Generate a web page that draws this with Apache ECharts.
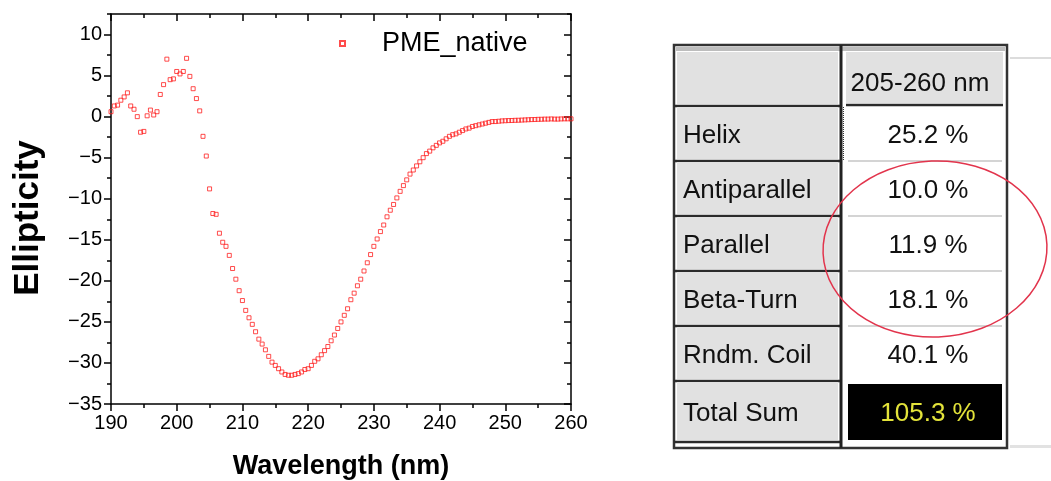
<!DOCTYPE html>
<html>
<head>
<meta charset="utf-8">
<title>PME_native CD spectrum</title>
<script src="https://cdn.jsdelivr.net/npm/echarts@6.0.0/dist/echarts.min.js"></script>
<style>
  html, body { margin: 0; padding: 0; background: #fff; }
  #main { width: 1051px; height: 481px; }
</style>
</head>
<body>
<div id="main"></div>
<script>
// wavelength grid (nm), one reading every 0.5 nm
const wavelengths = [
  190, 190.5, 191, 191.5, 192, 192.5, 193, 193.5, 194, 194.5,
  195, 195.5, 196, 196.5, 197, 197.5, 198, 198.5, 199, 199.5,
  200, 200.5, 201, 201.5, 202, 202.5, 203, 203.5, 204, 204.5,
  205, 205.5, 206, 206.5, 207, 207.5, 208, 208.5, 209, 209.5,
  210, 210.5, 211, 211.5, 212, 212.5, 213, 213.5, 214, 214.5,
  215, 215.5, 216, 216.5, 217, 217.5, 218, 218.5, 219, 219.5,
  220, 220.5, 221, 221.5, 222, 222.5, 223, 223.5, 224, 224.5,
  225, 225.5, 226, 226.5, 227, 227.5, 228, 228.5, 229, 229.5,
  230, 230.5, 231, 231.5, 232, 232.5, 233, 233.5, 234, 234.5,
  235, 235.5, 236, 236.5, 237, 237.5, 238, 238.5, 239, 239.5,
  240, 240.5, 241, 241.5, 242, 242.5, 243, 243.5, 244, 244.5,
  245, 245.5, 246, 246.5, 247, 247.5, 248, 248.5, 249, 249.5,
  250, 250.5, 251, 251.5, 252, 252.5, 253, 253.5, 254, 254.5,
  255, 255.5, 256, 256.5, 257, 257.5, 258, 258.5, 259, 259.5,
  260
]

// ellipticity
const ellipticity = [
  0.6, 1.3, 1.4, 2.0, 2.4, 2.9, 1.3, 0.9, 0.0, -1.9,
  -1.8, 0.1, 0.8, 0.2, 0.6, 2.7, 3.9, 7.0, 4.5, 4.6,
  5.5, 5.2, 5.5, 7.1, 4.9, 3.4, 2.2, 0.7, -2.4, -4.8,
  -8.8, -11.8, -11.9, -14.2, -15.3, -15.8, -16.9, -18.5, -19.8, -21.2,
  -22.4, -23.6, -24.5, -25.3, -26.2, -27.1, -27.7, -28.4, -29.2, -29.9,
  -30.3, -30.7, -31.1, -31.4, -31.5, -31.5, -31.4, -31.3, -31.1, -30.8,
  -30.7, -30.3, -29.8, -29.5, -29.0, -28.5, -28.0, -27.3, -26.6, -25.8,
  -25.0, -24.2, -23.4, -22.3, -21.5, -20.6, -19.8, -18.8, -17.8, -16.8,
  -15.8, -14.9, -14.0, -13.2, -12.2, -11.4, -10.7, -9.9, -9.1, -8.4,
  -7.7, -7.0, -6.5, -6.0, -5.5, -5.0, -4.5, -4.2, -3.8, -3.5,
  -3.2, -3.0, -2.7, -2.4, -2.2, -2.1, -1.9, -1.7, -1.5, -1.4,
  -1.2, -1.1, -1.0, -0.9, -0.8, -0.7, -0.6, -0.6, -0.56, -0.52,
  -0.5, -0.48, -0.47, -0.45, -0.44, -0.42, -0.4, -0.38, -0.36, -0.35,
  -0.33, -0.32, -0.3, -0.3, -0.28, -0.3, -0.3, -0.28, -0.27, -0.27,
  -0.27
]

const xMajorTicks = [190, 200, 210, 220, 230, 240, 250, 260]
const xMinorTicks = [195, 205, 215, 225, 235, 245, 255]
const yMajorTicks = [-35, -30, -25, -20, -15, -10, -5, 0, 5, 10]
const yMinorTicks = [-32.5, -27.5, -22.5, -17.5, -12.5, -7.5, -2.5, 2.5, 7.5, 12.5]

// secondary structure table
const tableHeader = '205-260 nm'
const structureNames = ['Helix', 'Antiparallel', 'Parallel', 'Beta-Turn', 'Rndm. Coil', 'Total Sum']
const structurePercent = [25.2, 10.0, 11.9, 18.1, 40.1, 105.3]

const seriesName = 'PME_native'

var chartDom = document.getElementById('main')
var myChart = echarts.init(chartDom)

const font = 'Arial, "Liberation Sans", sans-serif'
const frame = { color: '#000', width: 1.5 }

// one axis of the frame (major or minor ticks)
const makeAxis = (gridIndex, position, min, max, ticks, len, inside, labels) => ({
  type: 'value',
  gridIndex: gridIndex,
  position: position,
  min: min,
  max: max,
  axisLine: { show: gridIndex === 0, onZero: false, lineStyle: frame },
  axisTick: { show: true, customValues: ticks, length: len, inside: inside, lineStyle: frame },
  axisLabel: labels
    ? {
        show: true, customValues: ticks, color: '#000', fontSize: 20, fontFamily: font, margin: 9,
        // Origin prints a real minus sign
        formatter: (v) => String(v).replace('-', '\u2212')
      }
    : { show: false },
  splitLine: { show: false }
})

// table drawing
const T = { left: 674, right: 1007, top: 45, bottom: 448, split: 841, valLeft: 848, valRight: 1002 }
const rowEdges = [106, 161, 216, 271, 326, 381, 442]
const graphics = []

graphics.push({
  type: 'rect', shape: { x: T.left, y: T.top, width: T.right - T.left, height: T.bottom - T.top },
  style: { fill: '#fff', stroke: '#333', lineWidth: 2.5 }
})
graphics.push({
  type: 'rect', shape: { x: T.left + 2, y: T.top + 2, width: T.right - T.left - 4, height: 4 },
  style: { fill: '#bdbdbd' }
})
// left column cells (header + rows)
let prevEdge = 51
rowEdges.forEach((edge) => {
  graphics.push({
    type: 'rect', shape: { x: T.left + 3, y: prevEdge + 1, width: T.split - T.left - 6, height: edge - prevEdge - 3 },
    style: { fill: '#e1e1e1' }
  })
  graphics.push({
    type: 'line', shape: { x1: T.left, y1: edge, x2: T.split, y2: edge },
    style: { stroke: '#2b2b2b', lineWidth: 2.5 }
  })
  prevEdge = edge
})
// header value cell
graphics.push({
  type: 'rect', shape: { x: T.split + 5, y: 52, width: T.valRight - T.split - 4, height: 51 },
  style: { fill: '#e1e1e1' }
})
graphics.push({
  type: 'line', shape: { x1: T.split + 5, y1: 105, x2: T.valRight + 1, y2: 105 },
  style: { stroke: '#2b2b2b', lineWidth: 2.5 }
})
// light separators between value cells
rowEdges.slice(1, 5).forEach((edge) => {
  graphics.push({
    type: 'line', shape: { x1: T.valLeft, y1: edge, x2: T.valRight, y2: edge },
    style: { stroke: '#c6c6c6', lineWidth: 1.5 }
  })
})
// total sum cell
graphics.push({
  type: 'rect', shape: { x: T.valLeft, y: 384, width: T.valRight - T.valLeft, height: 56 },
  style: { fill: '#000' }
})
// column divider
graphics.push({
  type: 'line', shape: { x1: T.split, y1: T.top, x2: T.split, y2: T.bottom },
  style: { stroke: '#222', lineWidth: 3 }
})
graphics.push({
  type: 'line', shape: { x1: T.split + 2.5, y1: 107, x2: T.split + 2.5, y2: 160 },
  style: { stroke: '#333', lineWidth: 1, lineDash: [1, 1] }
})
// faint lines continuing past the table
graphics.push({
  type: 'line', shape: { x1: 1010, y1: 58, x2: 1051, y2: 58 },
  style: { stroke: '#d0d0d0', lineWidth: 1.5 }
})
graphics.push({
  type: 'line', shape: { x1: 1010, y1: 446.5, x2: 1051, y2: 446.5 },
  style: { stroke: '#e2e2e2', lineWidth: 3 }
})
// texts
graphics.push({
  type: 'text', x: 920, y: 84,
  style: { text: tableHeader, font: '26px ' + font, fill: '#111', align: 'center', verticalAlign: 'middle' }
})
let rowTop = 106
structureNames.forEach((name, i) => {
  const rowBottom = rowEdges[i + 1]
  const cy = (rowTop + rowBottom) / 2 + 2
  const last = i === structureNames.length - 1
  graphics.push({
    type: 'text', x: 683, y: cy,
    style: { text: name, font: '26px ' + font, fill: '#111', align: 'left', verticalAlign: 'middle' }
  })
  graphics.push({
    type: 'text', x: 928, y: cy,
    style: {
      text: structurePercent[i].toFixed(1) + ' %', font: '26px ' + font,
      fill: last ? '#e3e33a' : '#111', align: 'center', verticalAlign: 'middle'
    }
  })
  rowTop = rowBottom
})
// red ellipse round the beta rows
graphics.push({
  type: 'ellipse', x: 935, y: 249, rotation: 0.04,
  shape: { cx: 0, cy: 0, rx: 112, ry: 88 },
  style: { fill: null, stroke: '#e2344c', lineWidth: 1.5 }
})
// axis titles
graphics.push({
  type: 'text', x: 28, y: 218, rotation: Math.PI / 2,
  style: { text: 'Ellipticity', font: 'bold 35px ' + font, fill: '#000', align: 'center', verticalAlign: 'middle' }
})
graphics.push({
  type: 'text', x: 341, y: 467,
  style: { text: 'Wavelength (nm)', font: 'bold 27px ' + font, fill: '#000', align: 'center', verticalAlign: 'middle' }
})

var option = {
  animation: false,
  backgroundColor: '#fff',
  grid: [
    { left: 111, top: 14, width: 460, height: 390, outerBoundsMode: 'none' },
    { left: 111, top: 14, width: 460, height: 390, outerBoundsMode: 'none' }
  ],
  legend: {
    data: [seriesName],
    left: 339,
    top: 30,
    padding: 0,
    itemWidth: 5,
    itemHeight: 5,
    textStyle: { fontSize: 27, fontFamily: font, color: '#000', padding: [0, 0, 0, 32] }
  },
  xAxis: [
    makeAxis(0, 'bottom', 190, 260, xMajorTicks, 7, false, true),
    makeAxis(0, 'top', 190, 260, xMajorTicks, 7, true, false),
    makeAxis(1, 'bottom', 190, 260, xMinorTicks, 4, false, false),
    makeAxis(1, 'top', 190, 260, xMinorTicks, 4, true, false)
  ],
  yAxis: [
    makeAxis(0, 'left', -35, 12.5, yMajorTicks, 7, false, true),
    makeAxis(0, 'right', -35, 12.5, yMajorTicks, 7, true, false),
    makeAxis(1, 'left', -35, 12.5, yMinorTicks, 4, false, false),
    makeAxis(1, 'right', -35, 12.5, yMinorTicks, 4, true, false)
  ],
  series: [
    {
      name: seriesName,
      type: 'scatter',
      xAxisIndex: 0,
      yAxisIndex: 0,
      clip: false,
      symbol: 'rect',
      symbolSize: 4,
      itemStyle: { color: 'rgba(255,255,255,0)', borderColor: '#ff1f1f', borderWidth: 1 },
      data: wavelengths.map((w, i) => [w, ellipticity[i]])
    }
  ],
  graphic: graphics
}

option && myChart.setOption(option)
</script>
</body>
</html>
